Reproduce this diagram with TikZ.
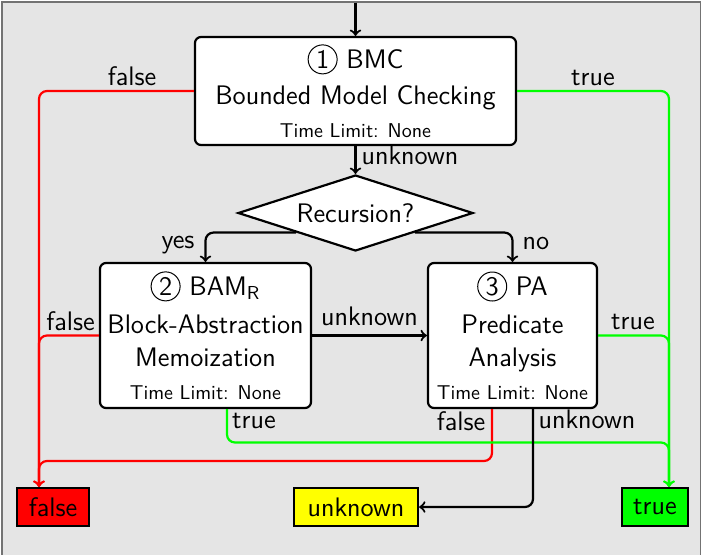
\documentclass[tikz,border=0pt]{standalone}
\usetikzlibrary{shapes.geometric}
\definecolor{bggray}{gray}{0.9}
\definecolor{framegray}{gray}{0.45}
\definecolor{tgreen}{RGB}{0,255,0}
\definecolor{tred}{RGB}{255,0,0}
\definecolor{tyellow}{RGB}{255,255,0}
\newcommand\mainfs{\fontsize{13.4}{16.5}\selectfont}
\newcommand\smallfs{\fontsize{10}{16.5}\selectfont}
\newcommand\cnum[1]{\tikz[baseline=(cn.base)]\node[shape=circle,draw=black,fill=none,line width=0.5pt,inner sep=0pt,minimum width=14.5pt,minimum height=14.5pt,rounded corners=0pt,anchor=center](cn){#1};}
\tikzset{
  box/.style={draw=black, line width=1.1pt, fill=white, rounded corners=3pt, align=center, inner sep=0pt},
  resbox/.style={draw=black, line width=1.1pt, minimum height=19pt, inner sep=0pt},
  conn/.style={line width=1.1pt, ->, rounded corners=4pt},
  lbl/.style={inner sep=0pt, anchor=base},
}
\begin{document}
\begin{tikzpicture}[x=0.5pt,y=-0.5pt,font=\sffamily\mainfs]
\useasboundingbox (0,0) rectangle (703,554);
\draw[fill=bggray, draw=framegray, line width=0.9pt] (2,2) rectangle (700.5,562);

% main nodes
\node[box, minimum width=160.5pt, minimum height=54pt] (bmc) at (355.5,91)
  {\cnum{1} BMC\\[1.5pt] Bounded Model Checking\\ {\smallfs Time Limit: None}};
\node[draw=black, line width=1.1pt, fill=white, shape=diamond, aspect=3.1, minimum width=117.5pt, minimum height=38pt, inner sep=0pt] (rec) at (355.5,213) {Recursion?};
\node[box, minimum width=105.5pt, minimum height=72.5pt] (bam) at (205.5,335.5)
  {\cnum{2} BAM\textsubscript{R}\\[2.5pt] Block-Abstraction\\ Memoization\\ {\smallfs Time Limit: None}};
\node[box, minimum width=84.5pt, minimum height=72.5pt] (pa) at (512.5,335.5)
  {\cnum{3} PA\\[2.5pt] Predicate\\ Analysis\\ {\smallfs Time Limit: None}};

% result nodes
\node[resbox, fill=tred, minimum width=36pt] (fbox) at (53,507) {false};
\node[resbox, fill=tyellow, minimum width=62pt] (ubox) at (356,507) {unknown};
\node[resbox, fill=tgreen, minimum width=33pt] (tbox) at (655,507) {true};

% helper coordinates
\coordinate (start) at (355.5,2.5);
\coordinate (fx) at (39,0);
\coordinate (tx) at (669,0);
\coordinate (pfx) at (492,0);
\coordinate (bx) at (227,0);
\coordinate (ux) at (533,0);
\coordinate (ylow) at (0,461);
\coordinate (yt) at (0,442.5);

% black connectors (top part)
\draw[conn] (start) -- (bmc.north);
\draw[conn] (bmc.south) -- (rec.north);
\draw[conn] (rec.south west) -| (bam.north);
\draw[conn] (rec.south east) -| (pa.north);
\draw[conn] (bam.east) -- (pa.west);

% red connectors
\draw[conn, tred] (bmc.west) -| (fx |- fbox.north);
\draw[conn, tred] (bam.west) -| (fx |- fbox.north);
\draw[conn, tred] (pa.south -| pfx) |- (ylow -| fx) -- (fx |- fbox.north);

% green connectors
\draw[conn, tgreen] (bmc.east) -| (tx |- tbox.north);
\draw[conn, tgreen] (pa.east) -| (tx |- tbox.north);
\draw[conn, tgreen] (bam.south -| bx) |- (yt -| tx) -- (tx |- tbox.north);

% black unknown from PA
\draw[conn] (pa.south -| ux) |- (ubox.east);

% labels
\node[lbl] (l1) at (132,85) {false};
\node[lbl] (l2) at (593,85) {true};
\node[lbl] (l3) at (410,164) {unknown};
\node[lbl] (l4) at (178,248) {yes};
\node[lbl] (l5) at (536,249) {no};
\node[lbl] (l6) at (369.5,325) {unknown};
\node[lbl] (l7) at (70.5,330) {false};
\node[lbl] (l8) at (633,329) {true};
\node[lbl] (l9) at (254,428) {true};
\node[lbl] (l10) at (461,430) {false};
\node[lbl] (l11) at (587,428) {unknown};
\end{tikzpicture}
\end{document}
